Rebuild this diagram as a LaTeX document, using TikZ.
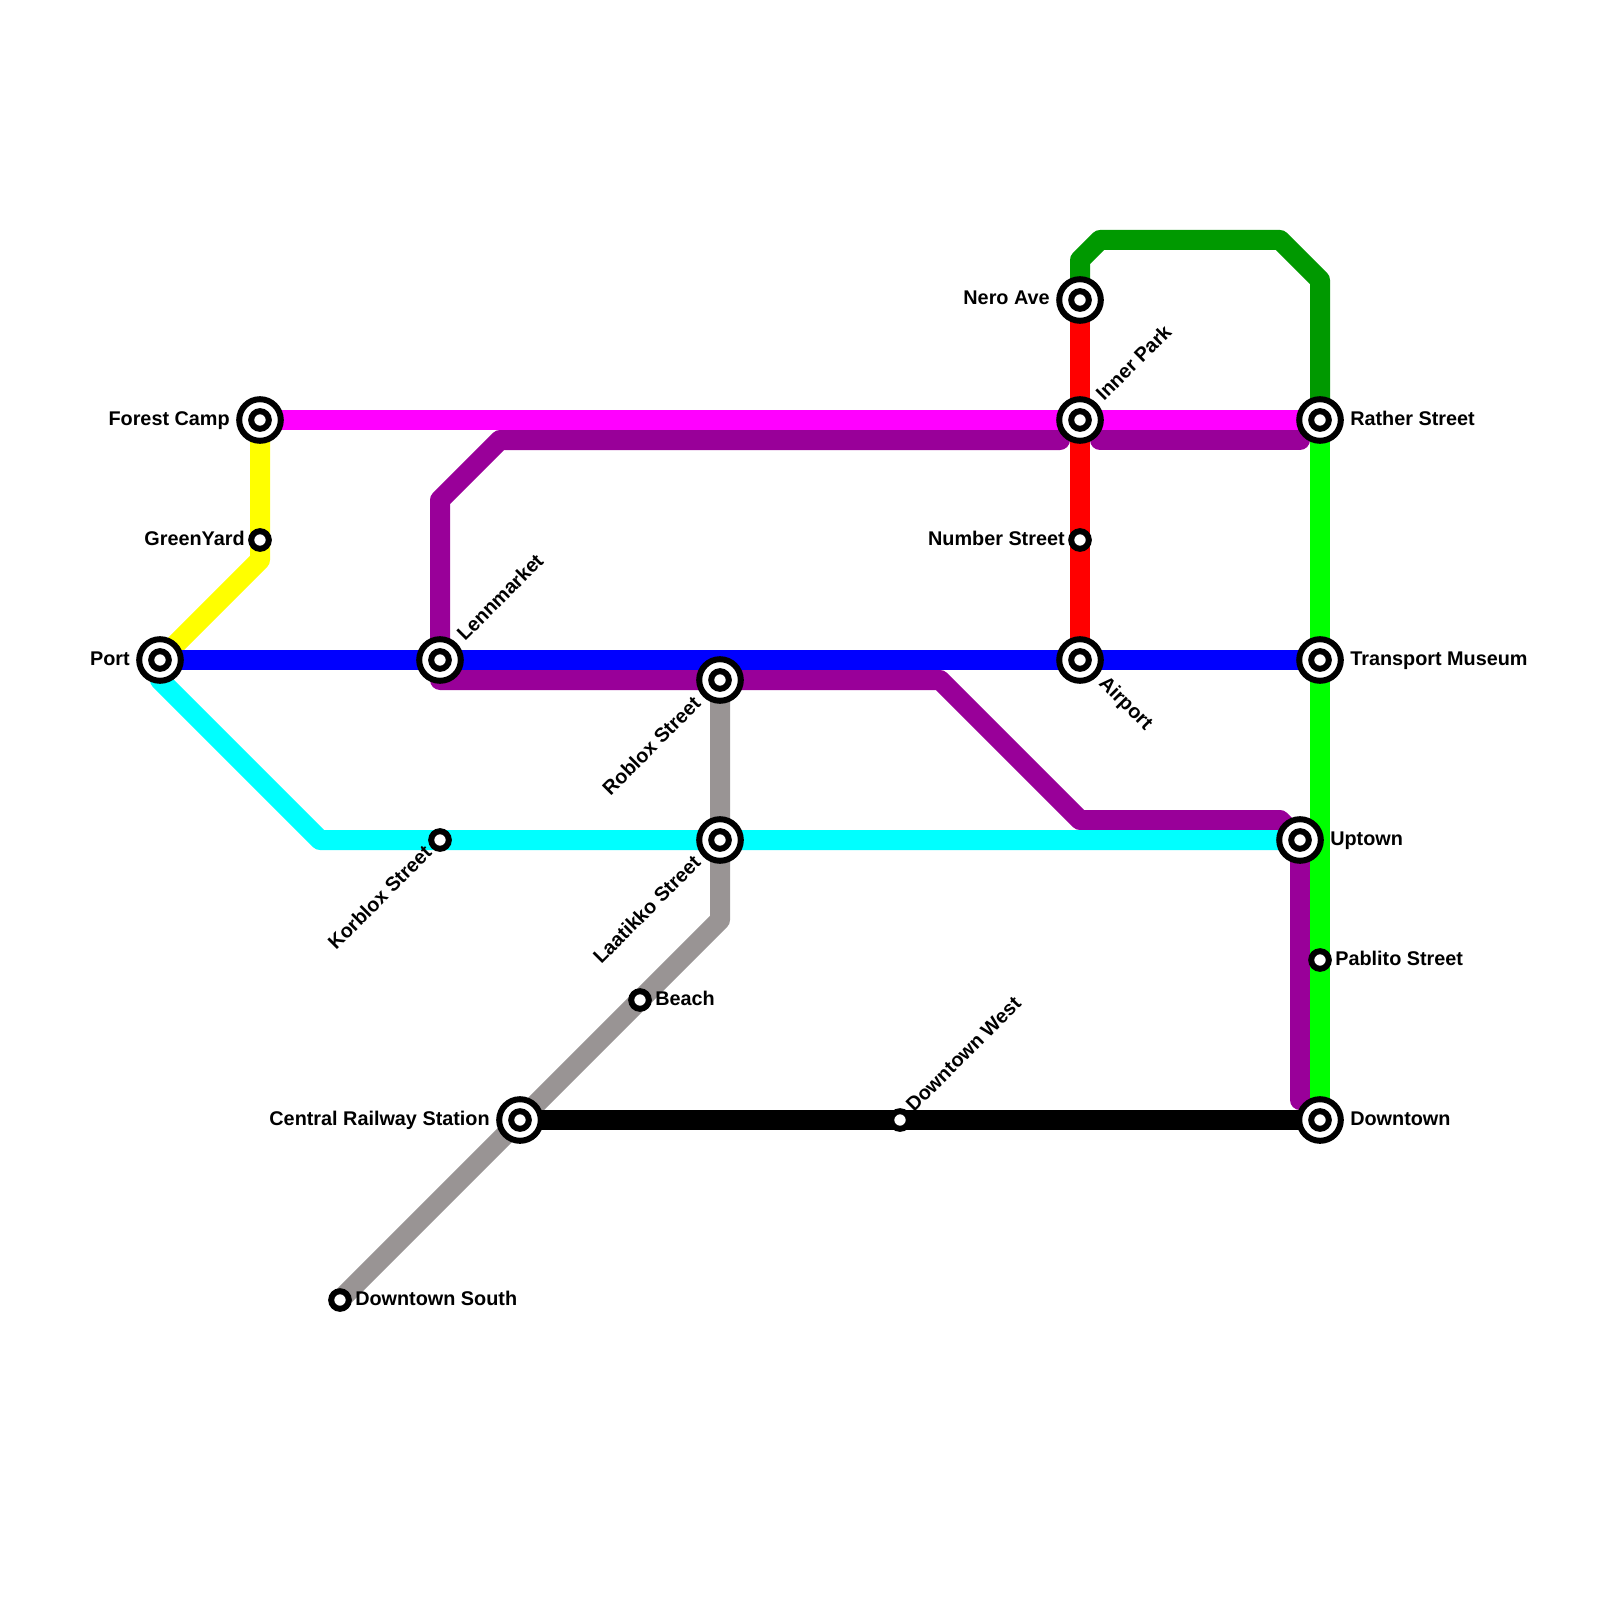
\documentclass[tikz,border=0pt]{standalone}
\usepackage{fontspec}
\setmainfont{Liberation Sans}
\usetikzlibrary{calc,backgrounds}
\definecolor{linepurple}{HTML}{990099}
\definecolor{linegreen}{HTML}{009900}
\definecolor{linegrey}{HTML}{999494}
\definecolor{linecyan}{HTML}{00FFFF}
\definecolor{linemagenta}{HTML}{FF00FF}
\definecolor{lineyellow}{HTML}{FFFF00}
\definecolor{linelime}{HTML}{00FF00}
\definecolor{linered}{HTML}{FF0000}
\definecolor{lineblue}{HTML}{0000FF}

\begin{document}
\begin{tikzpicture}[
  x=0.25mm, y=-0.25mm,
  font=\fontsize{14.1}{16}\selectfont\bfseries,
  metro/.style={line width=5mm, line join=round},
  metroend/.style={metro, line cap=round},
  halt/.style={circle, draw=black, fill=white, line width=1.5mm, minimum size=4.4mm, inner sep=0pt},
  hub/.style={circle, draw=black, fill=white, line width=1.5mm, minimum size=10.4mm, inner sep=0pt},
  lbl/.style={inner sep=0pt},
]
\useasboundingbox (0,0) rectangle (1600,1600);

% Interchange stations
\node[hub] (forest) at (260,420) {};
\node[hub] (port) at (160,660) {};
\node[hub] (lenn) at (440,660) {};
\node[hub] (roblox) at (720,680) {};
\node[hub] (laatikko) at (720,840) {};
\node[hub] (central) at (520,1120) {};
\node[hub] (nero) at (1080,300) {};
\node[hub] (inner) at (1080,420) {};
\node[hub] (airport) at (1080,660) {};
\node[hub] (rather) at (1320,420) {};
\node[hub] (museum) at (1320,660) {};
\node[hub] (uptown) at (1300,840) {};
\node[hub] (downtown) at (1320,1120) {};

% Inner rings
\node[halt] (forestin) at (forest) {};
\node[halt] (portin) at (port) {};
\node[halt] (lennin) at (lenn) {};
\node[halt] (robloxin) at (roblox) {};
\node[halt] (laatikkoin) at (laatikko) {};
\node[halt] (centralin) at (central) {};
\node[halt] (neroin) at (nero) {};
\node[halt] (innerin) at (inner) {};
\node[halt] (airportin) at (airport) {};
\node[halt] (ratherin) at (rather) {};
\node[halt] (museumin) at (museum) {};
\node[halt] (uptownin) at (uptown) {};
\node[halt] (downtownin) at (downtown) {};

% Small stations
\node[halt] (green) at (260,540) {};
\node[halt] (number) at (1080,540) {};
\node[halt] (korblox) at (440,840) {};
\node[halt] (beach) at (640,1000) {};
\node[halt] (west) at (900,1120) {};
\node[halt] (south) at (340,1300) {};
\node[halt] (pablito) at (1320,960) {};

% Bends and free ends
\coordinate (ybend) at (260,560);
\coordinate (cstart) at (160,680);
\coordinate (cbend) at (320,840);
\coordinate (gbend) at (720,920);
\coordinate (dg1) at (1080,260);
\coordinate (dg2) at (1100,240);
\coordinate (dg3) at (1280,240);
\coordinate (dg4) at (1320,280);
\coordinate (pu1) at (1060,440);
\coordinate (pu2) at (500,440);
\coordinate (pu3) at (440,500);
\coordinate (pu4) at (440,680);
\coordinate (pu5) at (940,680);
\coordinate (pu6) at (1080,820);
\coordinate (pu7) at (1280,820);
\coordinate (pu8) at (1300,1100);
\coordinate (pu9) at (1100,440);
\coordinate (pu10) at (1300,440);

% Lines
\begin{scope}[on background layer]
\draw[metroend, linepurple] (pu1) -- (pu2) -- (pu3) -- (pu4) -- (roblox.center) -- (pu5) -- (pu6) -- (pu7) -- (uptown.center) -- (pu8);
\draw[metroend, linepurple] (pu9) -- (pu10);
\draw[metro, linegrey] (roblox.center) -- (laatikko.center) -- (gbend) -- (beach.center) -- (central.center) -- (south.center);
\draw[metro, lineyellow] (forest.center) -- (green.center) -- (ybend) -- (port.center);
\draw[metro, linecyan] (port.center) -- (cstart) -- (cbend) -- (korblox.center) -- (laatikko.center) -- (uptown.center);
\draw[metro, linegreen] (nero.center) -- (dg1) -- (dg2) -- (dg3) -- (dg4) -- (rather.center);
\draw[metro, linered] (nero.center) -- (inner.center) -- (number.center) -- (airport.center);
\draw[metro, linelime] (rather.center) -- (museum.center) -- (pablito.center) -- (downtown.center);
\draw[metro, linemagenta] (forest.center) -- (inner.center) -- (rather.center);
\draw[metro, lineblue] (port.center) -- (lenn.center) -- (airport.center) -- (museum.center);
\draw[metro, black] (central.center) -- (west.center) -- (downtown.center);
\end{scope}

% Labels on the left
\node[lbl, anchor=base east] (forestlbl) at ($(forest)+(-30,5)$) {Forest Camp};
\node[lbl, anchor=base east] (greenlbl) at ($(green)+(-15,5)$) {GreenYard};
\node[lbl, anchor=base east] (portlbl) at ($(port)+(-30,5)$) {Port};
\node[lbl, anchor=base east] (nerolbl) at ($(nero)+(-30,5)$) {Nero Ave};
\node[lbl, anchor=base east] (numberlbl) at ($(number)+(-15,5)$) {Number Street};
\node[lbl, anchor=base east] (centrallbl) at ($(central)+(-30,5)$) {Central Railway Station};

% Labels on the right
\node[lbl, anchor=base west] (ratherlbl) at ($(rather)+(30,5)$) {Rather Street};
\node[lbl, anchor=base west] (museumlbl) at ($(museum)+(30,5)$) {Transport Museum};
\node[lbl, anchor=base west] (uptownlbl) at ($(uptown)+(30,5)$) {Uptown};
\node[lbl, anchor=base west] (downtownlbl) at ($(downtown)+(30,5)$) {Downtown};
\node[lbl, anchor=base west] (pablitolbl) at ($(pablito)+(15,5)$) {Pablito Street};
\node[lbl, anchor=base west] (beachlbl) at ($(beach)+(15,5)$) {Beach};
\node[lbl, anchor=base west] (southlbl) at ($(south)+(15,5)$) {Downtown South};

% Slanted labels
\node[lbl, anchor=base west, rotate=45] (innerlbl) at ($(inner)+(24,-18)$) {Inner Park};
\node[lbl, anchor=base west, rotate=45] (lennlbl) at ($(lenn)+(25,-18)$) {Lennmarket};
\node[lbl, anchor=base west, rotate=45] (westlbl) at ($(west)+(14,-7)$) {Downtown West};
\node[lbl, anchor=base west, rotate=-45] (airportlbl) at ($(airport)+(18,24)$) {Airport};
\node[lbl, anchor=base east, rotate=45] (robloxlbl) at ($(roblox)+(-18,25)$) {Roblox Street};
\node[lbl, anchor=base east, rotate=45] (laatikkolbl) at ($(laatikko)+(-18,24)$) {Laatikko Street};
\node[lbl, anchor=base east, rotate=45] (korbloxlbl) at ($(korblox)+(-7,14)$) {Korblox Street};

\end{tikzpicture}
\end{document}
